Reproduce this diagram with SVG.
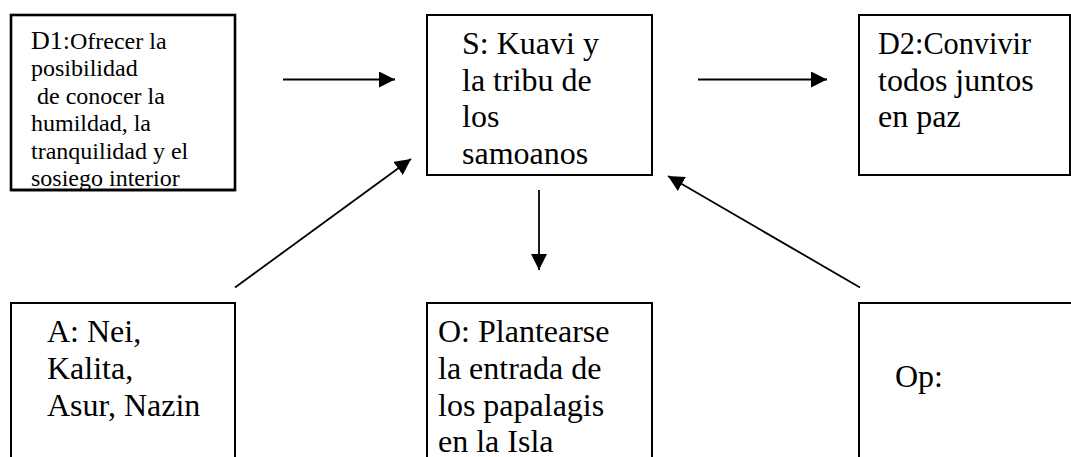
<svg xmlns="http://www.w3.org/2000/svg" width="1071" height="457" viewBox="0 0 1071 457">
<style>
.box{fill:#fff;stroke:#000;stroke-width:2}
.t{font-family:'Liberation Serif','Times New Roman','DejaVu Serif',serif;fill:#000}
.big{font-size:32px}
.small{font-size:24px}
.conn line{stroke:#000;stroke-width:1.8}
</style>
<defs>
<marker id="ah" viewBox="0 0 16 16" markerWidth="16" markerHeight="16" markerUnits="userSpaceOnUse" refX="16" refY="8" orient="auto">
<path d="M0,0 L16,8 L0,16 z" fill="#000"/>
</marker>
</defs>
<rect width="1071" height="457" fill="#fff"/>
<g id="D1">
<rect class="box" x="11" y="15" width="224" height="175" style="stroke-width:2.6"/>
<text class="t small"><tspan x="31" y="48.5"><tspan font-size="26">D1:</tspan>Ofrecer la</tspan><tspan x="31" y="76">posibilidad</tspan><tspan x="31" y="103.5" xml:space="preserve"> de conocer la</tspan><tspan x="31" y="131">humildad, la</tspan><tspan x="31" y="158.5">tranquilidad y el</tspan><tspan x="31" y="186">sosiego interior</tspan></text>
<line x1="11" y1="190" x2="235" y2="190" stroke="#000" stroke-width="2.6"/>
</g>
<g id="S">
<rect class="box" x="427" y="15" width="225" height="160"/>
<text class="t big"><tspan x="462" y="54">S: Kuavi y</tspan><tspan x="462" y="90.5">la tribu de</tspan><tspan x="462" y="127">los</tspan><tspan x="462" y="163.5">samoanos</tspan></text>
</g>
<g id="D2">
<rect class="box" x="859" y="15" width="211" height="160"/>
<text class="t big"><tspan x="878" y="54" textLength="153" lengthAdjust="spacingAndGlyphs">D2:Convivir</tspan><tspan x="878" y="90.5">todos juntos</tspan><tspan x="878" y="127">en paz</tspan></text>
</g>
<g id="A">
<rect class="box" x="11" y="303" width="224" height="170"/>
<text class="t big"><tspan x="47" y="342">A: Nei,</tspan><tspan x="47" y="379">Kalita,</tspan><tspan x="47" y="416">Asur, Nazin</tspan></text>
</g>
<g id="O">
<rect class="box" x="427" y="303" width="225" height="170"/>
<text class="t big"><tspan x="438" y="342">O: Plantearse</tspan><tspan x="438" y="379">la entrada de</tspan><tspan x="438" y="415.5">los papalagis</tspan><tspan x="438" y="452">en la Isla</tspan></text>
</g>
<g id="Op">
<rect class="box" x="859" y="303" width="220" height="170"/>
<text class="t big" x="895" y="387">Op:</text>
</g>
<g id="connectors" class="conn">
<line x1="283" y1="79.5" x2="395" y2="79.5" marker-end="url(#ah)"/>
<line x1="698" y1="79.5" x2="827" y2="79.5" marker-end="url(#ah)"/>
<line x1="235" y1="287.5" x2="411" y2="159" marker-end="url(#ah)"/>
<line x1="539" y1="190" x2="539" y2="270" marker-end="url(#ah)"/>
<line x1="860" y1="287.5" x2="668" y2="176" marker-end="url(#ah)"/>
</g>
</svg>
